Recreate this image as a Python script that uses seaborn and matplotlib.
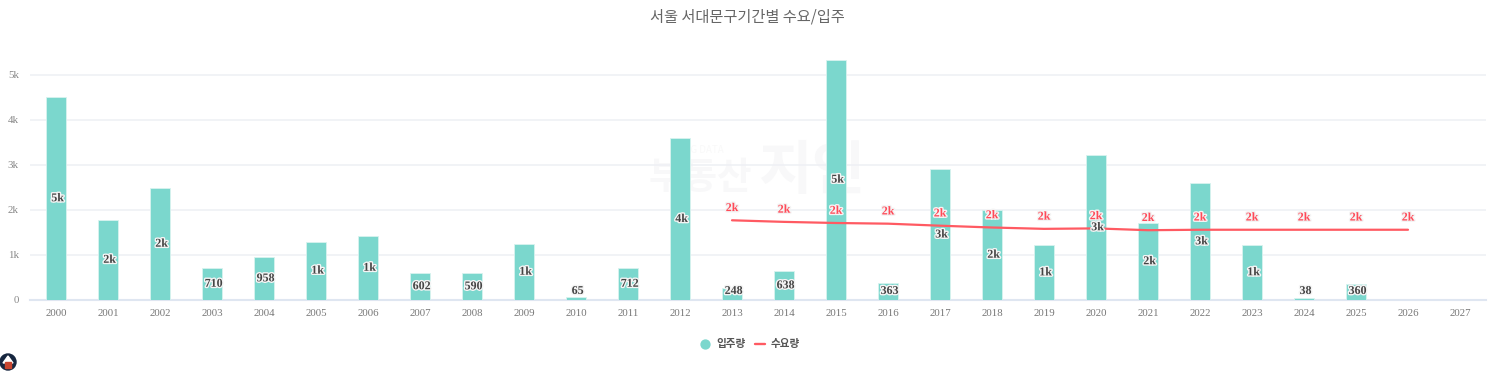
import matplotlib
matplotlib.use("Agg")
import numpy as np
import pandas as pd
import matplotlib.pyplot as plt
import matplotlib.patheffects as pe
from matplotlib.lines import Line2D
from matplotlib.patches import Circle, Polygon
from matplotlib.transforms import IdentityTransform
import seaborn as sns

years = list(range(2000, 2028))
supply = [4500, 1765, 2480, 700, 940, 1285, 1410, 590, 585, 1235, 65, 700, 3580, 248,
          630, 5330, 363, 2890, 1990, 1205, 3210, 1700, 2585, 1210, 38, 350, 0, 0]
supply_labels = ["5k", "2k", "2k", "710", "958", "1k", "1k", "602", "590", "1k", "65", "712", "4k", "248",
                 "638", "5k", "363", "3k", "2k", "1k", "3k", "2k", "3k", "1k", "38", "360", "", ""]
demand_years = list(range(2013, 2027))
demand = [1760, 1725, 1700, 1685, 1640, 1600, 1570, 1580, 1540, 1550, 1550, 1550, 1550, 1550]
demand_labels = ["2k"] * 14

title = "서울 서대문구기간별 수요/입주"
legend_labels = ["입주량", "수요량"]
yticks = [0, 1000, 2000, 3000, 4000, 5000]
ytick_labels = ["0", "1k", "2k", "3k", "4k", "5k"]

teal = "#7bd7cd"
red = "#ff5a62"
W, H = 1494, 372

sns.set_theme(style="white")
plt.rcParams["font.family"] = ["Liberation Serif", "DejaVu Serif"]

df_supply = pd.DataFrame({"year": years, "supply": supply})
df_demand = pd.DataFrame({"year": demand_years, "demand": demand})

fig = plt.figure(figsize=(W / 100, H / 100), dpi=100)
ax = fig.add_axes([30 / W, (H - 299.5) / H, 1456 / W, 247.5 / H])

sns.barplot(data=df_supply, x="year", y="supply", native_scale=True, width=0.385, color=teal,
            saturation=1, edgecolor="#d8f3ef", linewidth=0.6, zorder=3, ax=ax)
sns.lineplot(data=df_demand, x="year", y="demand", color=red, linewidth=1.6, zorder=4, ax=ax)

ax.set_xlim(1999.5, 2027.5)
ax.set_ylim(0, 5500)
ax.set_xticks(years)
ax.set_xticklabels([str(y) for y in years])
ax.set_yticks(yticks)
ax.set_yticklabels(ytick_labels)
ax.set_xlabel("")
ax.set_ylabel("")
ax.grid(axis="y", color="#eef0f4", linewidth=1.1, zorder=1)
ax.grid(axis="x", visible=False)
ax.set_axisbelow(True)
ax.tick_params(axis="x", length=0, pad=7, labelsize=7.8, labelcolor="#777777")
ax.tick_params(axis="y", length=0, pad=8, labelsize=7.8, labelcolor="#888888")
for s in ["top", "right", "left"]:
    ax.spines[s].set_visible(False)
ax.spines["bottom"].set_color("#dfe6f1")
ax.spines["bottom"].set_linewidth(1.5)
ax.spines["bottom"].set_zorder(2)

white_edge = [pe.withStroke(linewidth=2.0, foreground="#f4f4f4")]
for y, v, t in zip(years, supply, supply_labels):
    if t:
        ax.text(y + 0.03, max(v / 2, 190), t, ha="center", va="center", fontsize=8.6, fontweight="bold",
                color="#444444", path_effects=white_edge, zorder=6)
for y, v, t in zip(demand_years, demand, demand_labels):
    ax.annotate(t, (y, v), xytext=(0, 8.8), textcoords="offset points", ha="center", va="center",
                fontsize=8.6, fontweight="bold", color="#ff4a58", path_effects=white_edge, zorder=7)

# faint watermark behind the bars
korean = ["Noto Sans CJK KR", "DejaVu Sans"]
ax.text(700 / W, (H - 178) / H, "부동산", transform=fig.transFigure, ha="center", va="center", fontsize=27,
        fontweight="bold", color="#f8f8f9", family=korean, zorder=0)
ax.text(812 / W, (H - 172) / H, "지인", transform=fig.transFigure, ha="center", va="center", fontsize=42,
        fontweight="bold", color="#f8f8f9", family=korean, zorder=0)
ax.text(702 / W, (H - 150) / H, "BIG DATA", transform=fig.transFigure, ha="center", va="center", fontsize=7,
        color="#f9f9f9", family=korean, zorder=0)

fig.text(747.5 / W, (H - 17) / H, title, ha="center", va="center", fontsize=11, color="#666666", family=korean)

handles = [Line2D([], [], marker="o", linestyle="", color=teal, markersize=6.4),
           Line2D([], [], color=red, linewidth=1.7)]
leg = fig.legend(handles, legend_labels, loc="center", bbox_to_anchor=(750 / W, (H - 344.5) / H), ncol=2, frameon=False,
                 prop={"family": korean, "size": 7.6, "weight": "bold"}, labelcolor="#555555",
                 handlelength=1.0, columnspacing=0.9, handletextpad=0.5)

# little logo cut off by the corner
fig.add_artist(Circle((8, H - 362), 8, transform=IdentityTransform(), color="#16263f"))
fig.add_artist(Polygon([(3, H - 363), (8, H - 356), (13, H - 363)], transform=IdentityTransform(), color="white"))
fig.add_artist(Polygon([(5, H - 368), (5, H - 362), (11, H - 362), (11, H - 368)], transform=IdentityTransform(), color="#c8452f"))

fig.savefig("out.png", dpi=100, facecolor="white")
